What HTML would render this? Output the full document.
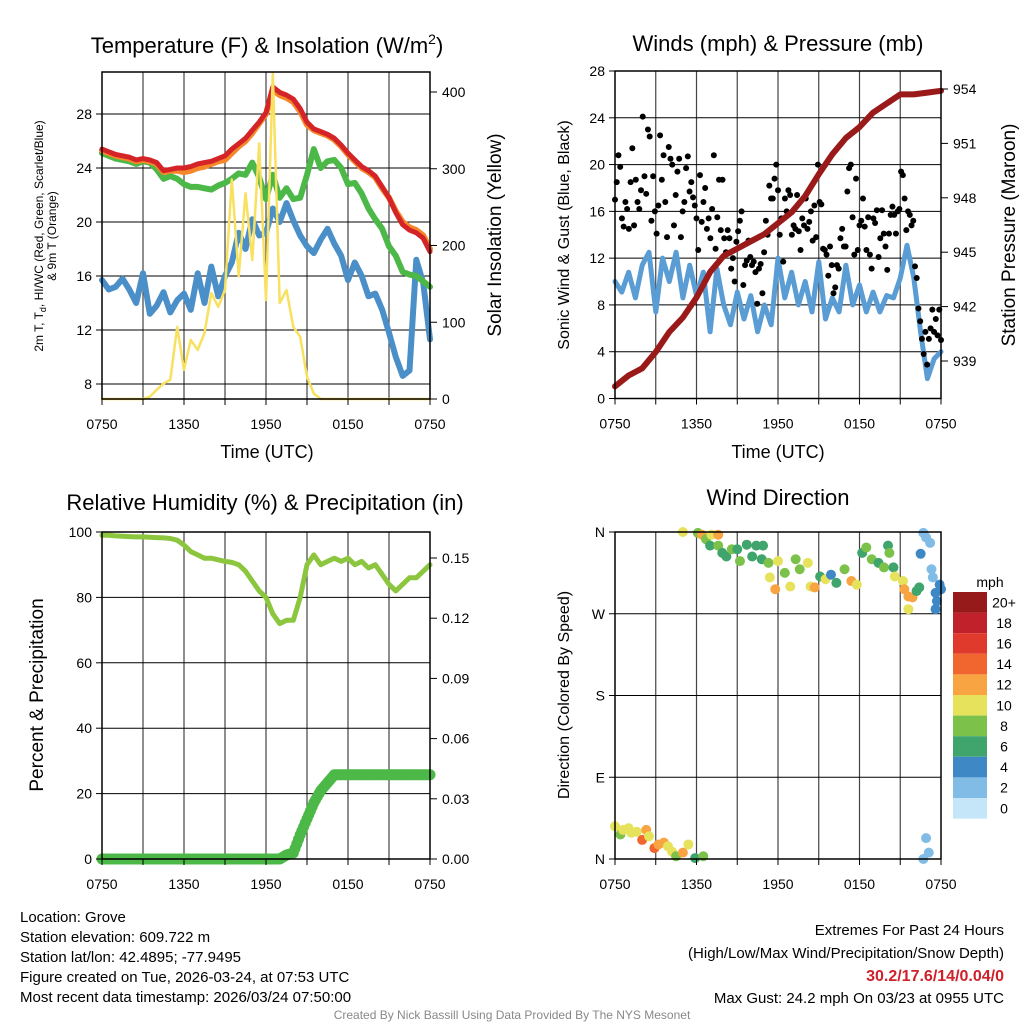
<!DOCTYPE html>
<html><head><meta charset="utf-8">
<style>
html,body{margin:0;padding:0;background:#fff;}
svg{display:block;font-family:"Liberation Sans",Arial,sans-serif;}
</style></head>
<body>
<svg id="chart" width="1024" height="1024" viewBox="0 0 1024 1024" xmlns="http://www.w3.org/2000/svg">
<g id="layer"></g>
<text x="267" y="53" font-size="22" text-anchor="middle">Temperature (F) &amp; Insolation (W/m<tspan font-size="14" dy="-9">2</tspan><tspan dy="9">)</tspan></text>
<text x="778" y="51" font-size="22" text-anchor="middle">Winds (mph) &amp; Pressure (mb)</text>
<text x="265" y="510" font-size="22" text-anchor="middle">Relative Humidity (%) &amp; Precipitation (in)</text>
<text x="778" y="505" font-size="22" text-anchor="middle">Wind Direction</text>
<text x="267" y="458" font-size="18" text-anchor="middle">Time (UTC)</text>
<text x="778" y="458" font-size="18" text-anchor="middle">Time (UTC)</text>
<text transform="translate(43,236) rotate(-90)" font-size="12" text-anchor="middle">2m T, T<tspan font-size="9" dy="3">d</tspan><tspan dy="-3">, HI/WC (Red, Green, Scarlet/Blue)</tspan></text>
<text transform="translate(56,236) rotate(-90)" font-size="12" text-anchor="middle">&amp; 9m T (Orange)</text>
<text transform="translate(501,235) rotate(-90)" font-size="19" text-anchor="middle">Solar Insolation (Yellow)</text>
<text transform="translate(569,235) rotate(-90)" font-size="16" text-anchor="middle">Sonic Wind &amp; Gust (Blue, Black)</text>
<text transform="translate(1015,235) rotate(-90)" font-size="19" text-anchor="middle">Station Pressure (Maroon)</text>
<text transform="translate(43,695) rotate(-90)" font-size="19" text-anchor="middle">Percent &amp; Precipitation</text>
<text transform="translate(569,695) rotate(-90)" font-size="16" text-anchor="middle">Direction (Colored By Speed)</text>
<g font-size="15">
<text x="20" y="922">Location: Grove</text>
<text x="20" y="942">Station elevation: 609.722 m</text>
<text x="20" y="962">Station lat/lon: 42.4895; -77.9495</text>
<text x="20" y="982">Figure created on Tue, 2026-03-24, at 07:53 UTC</text>
<text x="20" y="1002">Most recent data timestamp: 2026/03/24 07:50:00</text>
</g>
<g font-size="15" text-anchor="end">
<text x="1004" y="935">Extremes For Past 24 Hours</text>
<text x="1004" y="958">(High/Low/Max Wind/Precipitation/Snow Depth)</text>
<text x="1004" y="981" fill="#d0202a" font-weight="bold" font-size="16">30.2/17.6/14/0.04/0</text>
<text x="1004" y="1003">Max Gust: 24.2 mph On 03/23 at 0955 UTC</text>
</g>
<text x="512" y="1019" font-size="12" fill="#888" text-anchor="middle">Created By Nick Bassill Using Data Provided By The NYS Mesonet</text>
</svg>
<script>
const xTickLabels = ["0750","1350","1950","0150","0750"];
const tempTicks = [8,12,16,20,24,28];
const solarTicks = [0,100,200,300,400];
const windTicks = [0,4,8,12,16,20,24,28];
const pressTicks = [939,942,945,948,951,954];
const rhTicks = [0,20,40,60,80,100];
const precipTicks = [0,0.03,0.06,0.09,0.12,0.15];
const precipTickLabels = ["0.00","0.03","0.06","0.09","0.12","0.15"];
const dirTickLabels = ["N","E","S","W","N"];
const speedBinLabels = ["0","2","4","6","8","10","12","14","16","18","20+"];

const tempRed = [25.4,25.2,25.0,24.9,24.8,24.6,24.7,24.6,24.4,23.8,23.9,24.0,24.0,24.1,24.3,24.4,24.5,24.7,24.9,25.4,25.8,26.2,26.8,27.4,28.1,30.0,29.6,29.4,29.1,28.4,27.4,26.9,26.7,26.5,26.2,25.7,25.1,24.6,24.1,23.8,23.4,22.6,21.8,20.7,19.8,19.4,19.2,18.8,17.8];
const tempOrange = [25.3,25.1,24.9,24.8,24.7,24.5,24.6,24.5,24.3,23.7,23.8,23.8,23.7,23.8,24.0,24.1,24.3,24.5,24.6,25.1,25.6,26.0,26.6,27.3,28.0,29.8,29.4,29.2,28.9,28.2,27.2,26.8,26.6,26.4,26.1,25.6,25.0,24.5,24.0,23.7,23.3,22.5,21.8,20.8,20.0,19.6,19.4,19.0,18.0];
const tempGreen = [25.1,24.9,24.7,24.6,24.5,24.3,24.5,24.4,23.9,23.2,23.4,23.2,22.8,22.6,22.6,22.5,22.4,22.7,22.9,23.2,23.6,23.5,24.4,23.3,21.7,23.5,21.8,22.5,21.7,21.8,23.5,25.4,24.0,24.5,24.6,24.0,22.8,22.9,22.1,21.0,20.2,19.5,18.2,17.5,16.3,16.1,16.0,15.6,15.2];
const tempBlue = [15.7,15.0,15.2,15.8,15.0,14.0,16.2,13.2,13.8,14.8,13.3,14.2,14.7,13.5,16.2,14.0,16.7,14.5,16.0,17.0,19.2,18.0,20.2,19.0,19.2,21.0,20.0,21.4,20.1,19.0,18.2,17.7,18.7,19.5,18.4,17.5,15.7,17.0,16.0,14.5,14.7,13.5,11.8,10.0,8.6,9.0,17.2,15.5,11.3];
const solar = [0,0,0,0,0,0,0,3,12,20,25,94,38,77,64,86,138,120,142,286,160,268,181,333,129,425,125,142,94,81,29,7,0,0,0,0,0,0,0,0,0,0,0,0,0,0,0,0,0];
const windSpeed = [10.0,9.1,10.8,8.6,11.4,12.5,7.4,12,10,12.5,8.6,11.4,8.8,10.8,5.7,11.1,8,6.3,9.1,6.8,8.8,5.7,8,6.3,12,8.6,10.8,8,10,7.4,11.7,6.8,8.6,7.4,11.4,8,9.7,7.4,9.1,7.4,8.8,8.6,10.3,13.1,10.3,5.7,1.7,3.4,4.0];
const rh = [99,99,98.8,98.7,98.6,98.5,98.5,98.4,98.3,98.2,98,97.5,96,94,93,92,92,91.5,91,90.7,90,88,85,82,80,75,72,73,73,80,90,93,90,91,92,91,92,90,91,89,90,87,84,82,84,86,86,88,90];
const precip = [0,0,0,0,0,0,0,0,0,0,0,0,0,0,0,0,0,0,0,0,0,0,0,0,0,0,0,0.002,0.003,0.012,0.02,0.028,0.034,0.038,0.042,0.042,0.042,0.042,0.042,0.042,0.042,0.042,0.042,0.042,0.042,0.042,0.042,0.042,0.042];
const pressure = [937.6,938.2,938.6,939.5,940.6,941.4,942.5,943.9,944.8,945.2,945.6,946.0,946.6,947.2,948.1,949.3,950.4,951.3,951.9,952.7,953.2,953.7,953.7,953.8,953.9];
const gusts = [17.0,18.5,20.8,19.8,15.4,14.7,16.8,16.2,14.5,18.5,21.4,14.8,18.7,16.8,16.2,17.8,24.1,19.0,17.5,23,22.4,15.2,19,16,14.1,16.5,22.5,18.7,20.8,16.8,13.8,21.5,20.5,20,14.8,17.4,19.4,20.5,13.8,16,16.8,19.7,20.7,17.7,18.5,17.2,16.5,15.4,12.7,19.1,15.1,16.8,18,14.5,15.4,13.7,16.2,20.8,12.8,15.5,18.7,14.4,18.7,13.7,12.5,14.4,13.7,11.1,12,10,13.4,14.3,15.2,16,9.7,11.4,11.8,13.5,12.1,11.4,11.7,10.8,8.1,11.1,11.5,9,12.5,15.2,14,18.2,17.1,17.1,18.8,20,17.8,14,15.4,11.7,17.1,16,17.8,17.4,14,14.8,14.5,17.4,14.3,12.7,15.4,14.8,17.1,14.5,15.1,16,13.5,16.5,13.8,20,16.8,16.6,12.8,12.7,12.3,10.5,13,11.4,9,9.5,11.4,11.1,13.7,14.5,13,13,17.7,19.7,20,15.5,12.3,18.8,12.7,14.8,15.2,17.1,14.7,12.7,15.5,12.3,11.1,15.4,15,16.1,12.1,13.7,16.1,14.1,13,11,14.1,15.7,16.4,15.7,14.1,16,16.2,19.4,19.1,17.1,14.4,16,15.7,14.8,15.2,11.3,10.3,7.7,6.6,5.1,3.8,5.7,2.9,5.1,6,7.6,5.7,6.8,5.4,7.6,5];
const dirTimes = [0,0.4,0.6,1,1.2,1.6,2,2.3,2.5,2.9,3.2,3.6,3.9,4.2,4.5,5,5.4,5.9,6.5,5,6.1,6.4,6.7,7,7.1,7.6,7.6,7.9,8.2,8.6,9,9.2,9.7,10.1,10.4,10.8,10.9,11.3,11.4,11.8,12,12.5,12.9,13.3,13.6,14.2,14.4,14.7,15.1,15.5,15.9,16.3,16.9,17.4,17.8,18.2,18.5,18.9,19.4,19.8,20.1,20.2,20.5,20.6,21.2,21.3,21.6,21.6,21.9,22.2,22.4,22.7,22.9,23.2,22.5,23.3,23.4,23.6,23.7,23.6,24,23.9,22.9,23.1,22.7];
const dirDegrees = [36,27,32,34,29,30,21,32,25,12,16,18,14,8,3,7,16,1,3,360,359,357,352,345,357,357,345,337,333,341,341,328,346,333,345,330,345,326,310,297,328,315,300,330,319,326,300,299,311,308,313,304,319,306,302,337,343,330,326,321,345,337,321,311,306,297,289,275,288,295,299,359,354,348,336,319,310,293,284,275,297,302,23,7,0];
const dirSpeeds = [10,8,10,10,10,10,14,12,10,14,12,12,10,10,8,12,10,6,8,10,8,12,8,6,10,12,8,6,6,8,6,8,6,6,6,6,6,8,10,12,10,8,10,8,8,10,10,12,6,10,4,6,8,12,10,6,8,8,6,8,6,8,6,10,10,12,12,10,12,6,6,2,2,2,4,2,2,4,4,4,4,4,2,2,2];

const NS = "http://www.w3.org/2000/svg";
const layer = document.getElementById("layer");
function mk(tag, attrs, parent){ const e=document.createElementNS(NS,tag); for(const k in attrs) e.setAttribute(k,attrs[k]); (parent||layer).appendChild(e); return e; }
function scale(d0,d1,r0,r1){ return v => r0 + (v-d0)/(d1-d0)*(r1-r0); }
const speedColors = ["#c4e6f8","#80bce6","#3f88c6","#3fa56c","#7cc24a","#e6e25c","#f8a442","#f0662e","#e03a2c","#c0212a","#961a1a"];
function speedColor(s){ return speedColors[Math.min(10, Math.floor(s/2))]; }

function frame(name, L, T, R, B){
  const g = mk("g",{});
  
  
  for(let i=1;i<8;i++){
    const x = L + (R-L)*i/8;
    mk("line",{x1:x,y1:T,x2:x,y2:B,stroke:"#444","stroke-width":1.2},g);
  }
  return g;
}
function hline(g,y,L,R){ mk("line",{x1:L,y1:y,x2:R,y2:y,stroke:"#000","stroke-width":1},g); }
function border(name,L,T,R,B){
  const r = mk("rect",{x:L,y:T,width:R-L,height:B-T,fill:"none",stroke:"#000","stroke-width":1.5});
  
  
}
function xAxis(name,L,R,B){
  for(let i=0;i<xTickLabels.length;i++){
    const x = L+(R-L)*i/4;
    const t = mk("text",{x:x,y:B+30,"font-size":14,"text-anchor":"middle"});
    t.textContent = xTickLabels[i];
    
    
  }
  for(let i=0;i<=8;i++){ const x=L+(R-L)*i/8; mk("line",{x1:x,y1:B,x2:x,y2:B+6,stroke:"#000","stroke-width":1}); }
}
function leftTicks(name,ticks,labels,sy,L){
  ticks.forEach((v,i)=>{
    const y=sy(v);
    mk("line",{x1:L-6,y1:y,x2:L,y2:y,stroke:"#000","stroke-width":1});
    const t=mk("text",{x:L-10,y:y+5,"font-size":14,"text-anchor":"end"});
    t.textContent = labels ? labels[i] : v;
    
    
  });
}
function rightTicks(name,ticks,labels,sy,R){
  ticks.forEach((v,i)=>{
    const y=sy(v);
    mk("line",{x1:R,y1:y,x2:R+7,y2:y,stroke:"#000","stroke-width":1});
    const t=mk("text",{x:R+12,y:y+5,"font-size":14});
    t.textContent = labels ? labels[i] : v;
    
    
  });
}
function line(name,arr,step,sx,sy,color,w){
  const pts = arr.map((v,i)=>sx(i*step).toFixed(1)+","+sy(v).toFixed(1)).join(" ");
  const p = mk("polyline",{points:pts,fill:"none",stroke:color,"stroke-width":w,"stroke-linejoin":"round","stroke-linecap":"round"});
  
  
}

{
  const L=102,T=72,R=430,B=399;
  const sx=scale(0,24,L,R), sy=scale(8,28,384,114), ss=scale(0,400,399,92);
  const g=frame("temperature",L,T,R,B);
  tempTicks.forEach(v=>hline(g,sy(v),L,R));
  line("blue-wind-chill-line",tempBlue,0.5,sx,sy,"#4a8fc8",6);
  line("green-dewpoint-line",tempGreen,0.5,sx,sy,"#4cb848",6);
  line("orange-9m-temp-line",tempOrange,0.5,sx,sy,"#f5872a",6);
  line("red-2m-temp-line",tempRed,0.5,sx,sy,"#d42428",5);
  line("yellow-solar-line",solar,0.5,sx,ss,"#f8e060",2.5);
  border("temperature",L,T,R,B);
  xAxis("temperature",L,R,B);
  leftTicks("temperature",tempTicks,null,sy,L);
  rightTicks("solar",solarTicks,null,ss,R);
}
{
  const L=615,T=71,R=941,B=398.5;
  const sx=scale(0,24,L,R), sy=scale(0,28,B,T), sp=scale(939,954,361,89);
  const g=frame("winds",L,T,R,B);
  windTicks.forEach(v=>hline(g,sy(v),L,R));
  line("sonic-wind-line",windSpeed,0.5,sx,sy,"#5a9cd4",5);
  const step=24/(gusts.length-1);
  gusts.forEach((v,i)=>{
    const c=mk("circle",{cx:sx(i*step),cy:sy(v),r:3,fill:"#000"});
    
    
  });
  line("station-pressure-line",pressure,1,sx,sp,"#9a1a1a",6);
  border("winds",L,T,R,B);
  xAxis("winds",L,R,B);
  leftTicks("winds",windTicks,null,sy,L);
  rightTicks("pressure",pressTicks,null,sp,R);
}
{
  const L=102,T=532,R=430,B=859;
  const sx=scale(0,24,L,R), sy=scale(0,100,B,T), sp=scale(0,0.15,B,558);
  const g=frame("humidity",L,T,R,B);
  rhTicks.forEach(v=>hline(g,sy(v),L,R));
  line("relative-humidity-line",rh,0.5,sx,sy,"#8cc63e",5);
  for(let i=0;i<precip.length-1;i++){
    for(let k=0;k<4;k++){
      const v=precip[i]+(precip[i+1]-precip[i])*k/4;
      const c=mk("circle",{cx:sx((i+k/4)*0.5),cy:sp(v),r:5.5,fill:"#4cb848"});
      
      
    }
  }
  const c=mk("circle",{cx:sx(24),cy:sp(precip[precip.length-1]),r:5.5,fill:"#4cb848"});
  
  
  border("humidity",L,T,R,B);
  xAxis("humidity",L,R,B);
  leftTicks("humidity",rhTicks,null,sy,L);
  rightTicks("precip",precipTicks,precipTickLabels,sp,R);
}
{
  const L=615,T=532,R=941,B=859;
  const sx=scale(0,24,L,R), sy=scale(0,360,B,T);
  const g=frame("direction",L,T,R,B);
  [0,90,180,270,360].forEach(v=>hline(g,sy(v),L,R));
  dirTimes.forEach((t,i)=>{
    const c=mk("circle",{cx:sx(t),cy:sy(dirDegrees[i]),r:5,fill:speedColor(dirSpeeds[i])});
    
    
  });
  border("direction",L,T,R,B);
  xAxis("direction",L,R,B);
  leftTicks("direction",[0,90,180,270,360],dirTickLabels,sy,L);
  const cbT=592, bh=20.6;
  const lab=mk("text",{x:990,y:587,"font-size":14,"text-anchor":"middle"});
  lab.textContent="mph";
  
  
  for(let i=0;i<11;i++){
    const idx=10-i, y=cbT+i*bh;
    const r=mk("rect",{x:953,y:y,width:34,height:bh,fill:speedColors[idx]});
    
    
    const t=mk("text",{x:1004,y:y+bh/2+5,"font-size":14,"text-anchor":"middle"});
    t.textContent=speedBinLabels[idx];
    
    
  }
}
</script>
</body></html>
